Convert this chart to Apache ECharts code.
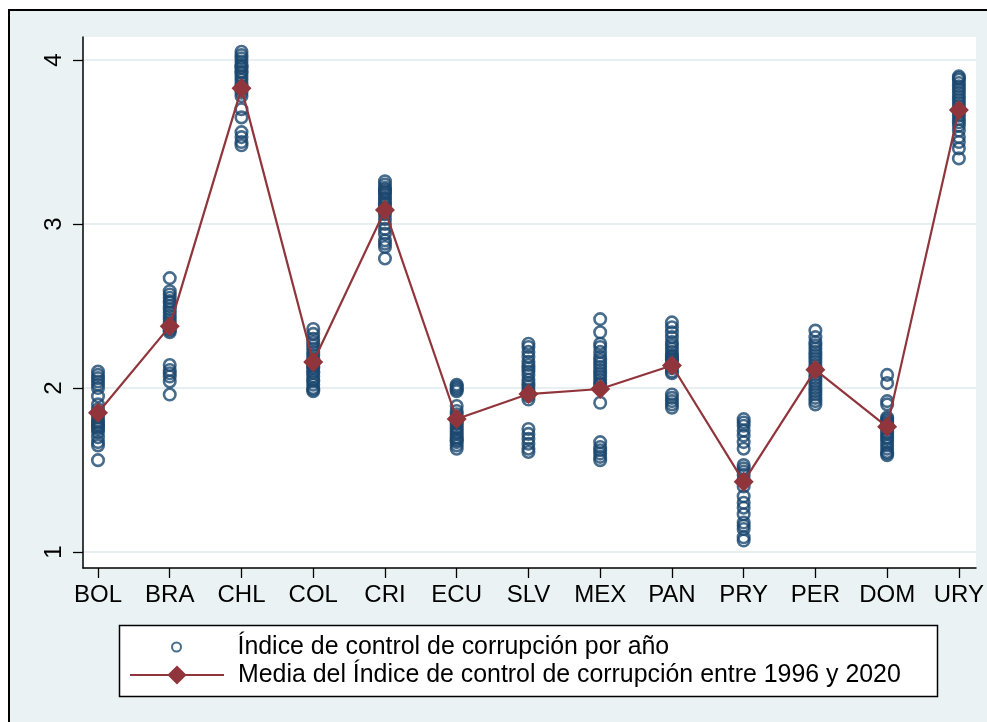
<!DOCTYPE html>
<html>
<head>
<meta charset="utf-8">
<script src="https://cdn.jsdelivr.net/npm/echarts@6/dist/echarts.min.js"></script>
<style>
  html, body { margin: 0; padding: 0; background: #fff; overflow: hidden; }
  #frame {
    position: absolute; left: 8px; top: 9px; right: 0; bottom: 0;
    background: #eaf2f3; border-left: 2px solid #000; border-top: 2px solid #000;
  }
  #chart { position: absolute; left: 0; top: 0; width: 987px; height: 722px; }
</style>
</head>
<body>
<div id="frame"></div>
<div id="chart"></div>
<script>
// paises (eje x)
const categories = ['BOL', 'BRA', 'CHL', 'COL', 'CRI', 'ECU', 'SLV', 'MEX', 'PAN', 'PRY', 'PER', 'DOM', 'URY']
const yTicks = [1, 2, 3, 4]

// indice por año, 1996-2020
const bol = [2.10, 2.08, 2.06, 2.04, 2.02, 2.00, 1.95, 1.90, 1.87, 1.84, 1.82, 1.80, 1.79, 1.78, 1.77, 1.76, 1.75, 1.73, 1.70, 1.67, 1.65, 1.56]
const bra = [2.67, 2.59, 2.57, 2.55, 2.53, 2.52, 2.50, 2.48, 2.46, 2.44, 2.42, 2.40, 2.38, 2.36, 2.35, 2.34, 2.14, 2.11, 2.09, 2.07, 2.04, 1.96]
const chl = [4.05, 4.03, 4.01, 3.99, 3.97, 3.96, 3.95, 3.93, 3.92, 3.90, 3.88, 3.86, 3.84, 3.82, 3.80, 3.78, 3.70, 3.65, 3.56, 3.53, 3.50, 3.48]
const col = [2.36, 2.33, 2.30, 2.28, 2.26, 2.24, 2.22, 2.20, 2.18, 2.16, 2.14, 2.13, 2.12, 2.10, 2.09, 2.07, 2.05, 2.04, 2.02, 2.00, 1.99, 1.98]
const cri = [3.26, 3.24, 3.22, 3.21, 3.20, 3.19, 3.18, 3.16, 3.15, 3.13, 3.12, 3.10, 3.08, 3.06, 3.03, 3.00, 2.97, 2.94, 2.90, 2.88, 2.86, 2.79]
const ecu = [2.02, 2.01, 2.00, 1.99, 1.98, 1.89, 1.86, 1.84, 1.82, 1.80, 1.79, 1.78, 1.76, 1.75, 1.73, 1.72, 1.70, 1.69, 1.68, 1.67, 1.65, 1.63]
const slv = [2.27, 2.25, 2.22, 2.19, 2.16, 2.14, 2.12, 2.10, 2.08, 2.05, 2.03, 2.01, 1.99, 1.97, 1.95, 1.93, 1.75, 1.72, 1.69, 1.66, 1.63, 1.61]
const mex = [2.42, 2.34, 2.27, 2.25, 2.22, 2.19, 2.17, 2.15, 2.13, 2.11, 2.09, 2.07, 2.05, 2.03, 2.02, 1.91, 1.67, 1.64, 1.62, 1.60, 1.58, 1.56]
const pan = [2.40, 2.37, 2.34, 2.31, 2.28, 2.26, 2.24, 2.22, 2.20, 2.19, 2.18, 2.17, 2.16, 2.14, 2.12, 2.10, 2.09, 1.96, 1.94, 1.92, 1.90, 1.88]
const pry = [1.81, 1.79, 1.77, 1.74, 1.71, 1.67, 1.63, 1.53, 1.51, 1.49, 1.47, 1.44, 1.40, 1.34, 1.30, 1.27, 1.23, 1.18, 1.16, 1.14, 1.09, 1.07]
const per = [2.35, 2.31, 2.28, 2.26, 2.24, 2.22, 2.20, 2.18, 2.16, 2.14, 2.12, 2.10, 2.08, 2.06, 2.04, 2.02, 2.00, 1.98, 1.96, 1.94, 1.92, 1.90]
const dom = [2.08, 2.03, 1.92, 1.90, 1.82, 1.81, 1.80, 1.79, 1.78, 1.77, 1.76, 1.75, 1.73, 1.72, 1.70, 1.69, 1.67, 1.65, 1.63, 1.61, 1.60, 1.59]
const ury = [3.90, 3.89, 3.88, 3.86, 3.84, 3.82, 3.80, 3.78, 3.76, 3.74, 3.72, 3.70, 3.68, 3.66, 3.64, 3.62, 3.60, 3.57, 3.53, 3.50, 3.46, 3.40]

// media 1996-2020
const means = [1.849, 2.376, 3.827, 2.159, 3.085, 1.811, 1.963, 1.994, 2.137, 1.429, 2.111, 1.763, 3.695]

const yearly = [bol, bra, chl, col, cri, ecu, slv, mex, pan, pry, per, dom, ury]

const nameYear = 'Índice de control de corrupción por año'
const nameMean = 'Media del Índice de control de corrupción entre 1996 y 2020'

const font = 'Liberation Sans, Arial, sans-serif'

const scatterData = []
yearly.forEach((vals, i) => {
  vals.forEach(v => scatterData.push([categories[i], v]))
})

const myChart = echarts.init(document.getElementById('chart'))
const options = {
  animation: false,
  backgroundColor: 'transparent',
  graphic: [
    {
      type: 'rect',
      z: -1,
      shape: { x: 119.5, y: 625.5, width: 818, height: 71 },
      style: { fill: '#fff', stroke: '#000', lineWidth: 1.5 }
    }
  ],
  grid: [
    // marco blanco del area de grafico
    { left: 83, right: 11, top: 37, bottom: 154, show: true, backgroundColor: '#fff', borderWidth: 0 },
    // rejilla y etiquetas del eje y
    { left: 83, right: 11, top: 60, bottom: 170 },
    // datos
    { left: 98, right: 27, top: 60, bottom: 170 }
  ],
  xAxis: [
    {
      gridIndex: 0, type: 'value', min: 0, max: 1,
      axisLine: { show: true, lineStyle: { color: '#000', width: 1.5 } },
      axisTick: { show: false }, axisLabel: { show: false }, splitLine: { show: false }
    },
    { gridIndex: 1, type: 'value', show: false },
    {
      gridIndex: 2, type: 'category', data: categories, boundaryGap: false, offset: 16,
      axisLine: { show: false },
      axisTick: { show: true, interval: 0, length: 10, lineStyle: { color: '#000', width: 1.3 } },
      axisLabel: { interval: 0, margin: 15, color: '#000', fontSize: 24, fontFamily: font },
      splitLine: { show: false }
    }
  ],
  yAxis: [
    {
      gridIndex: 0, type: 'value', min: 0, max: 1,
      axisLine: { show: true, lineStyle: { color: '#000', width: 1.5 } },
      axisTick: { show: false }, axisLabel: { show: false }, splitLine: { show: false }
    },
    {
      gridIndex: 1, type: 'value', min: yTicks[0], max: yTicks[yTicks.length - 1], interval: 1,
      axisLine: { show: false },
      axisTick: { show: true, length: 10, lineStyle: { color: '#000', width: 1.3 } },
      axisLabel: { rotate: 90, margin: 17, color: '#000', fontSize: 24, fontFamily: font },
      splitLine: { show: true, lineStyle: { color: '#e8eff1', width: 2 } }
    },
    { gridIndex: 2, type: 'value', min: 1, max: 4, show: false }
  ],
  legend: [
    {
      data: [nameYear],
      left: 171, top: 634, padding: 0,
      itemWidth: 94, itemHeight: 9,
      selectedMode: false,
      textStyle: { fontSize: 24.9, fontFamily: font, color: '#000', lineHeight: 26, padding: [0, 0, 0, 9] }
    },
    {
      data: [nameMean],
      left: 129, top: 662, padding: 0,
      itemWidth: 94, itemHeight: 24,
      selectedMode: false,
      textStyle: { fontSize: 24.9, fontFamily: font, color: '#000', lineHeight: 26, padding: [0, 0, 0, 9] }
    }
  ],
  series: [
    {
      name: nameYear,
      type: 'scatter',
      xAxisIndex: 2, yAxisIndex: 2,
      clip: false,
      symbol: 'circle',
      symbolSize: 11.5,
      itemStyle: { color: 'rgba(0,0,0,0)', borderColor: '#1a476f', borderWidth: 2.6 },
      data: scatterData
    },
    {
      name: nameMean,
      type: 'line',
      xAxisIndex: 2, yAxisIndex: 2,
      clip: false,
      symbol: 'diamond',
      symbolSize: 20,
      lineStyle: { color: '#90353b', width: 2.2 },
      itemStyle: { color: '#90353b' },
      data: means
    }
  ]
}
myChart.setOption(options)
</script>
</body>
</html>
